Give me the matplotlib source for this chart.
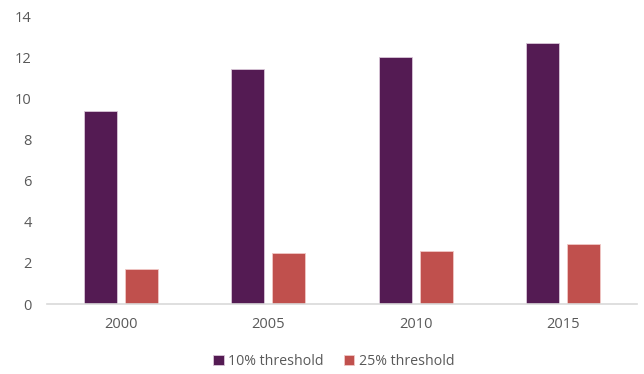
import numpy as np
import matplotlib.pyplot as plt

# Data
years = ['2000', '2005', '2010', '2015']
share_10 = [9.4, 11.4, 12.0, 12.7]
share_25 = [1.7, 2.5, 2.6, 2.9]

plt.rcParams['font.family'] = ['Open Sans', 'DejaVu Sans']

fig = plt.figure(figsize=(6.44, 3.74), dpi=100)
ax = fig.add_axes([47 / 644, 70 / 374, 590 / 644, 288 / 374])

x = np.arange(len(years))
w = 0.224
off = 0.139
col_10 = '#541b53'
col_25 = '#c0504d'

ax.bar(x - off, share_10, width=w, color=col_10, edgecolor='#d9c7d8', linewidth=0.6, label='10% threshold')
ax.bar(x + off, share_25, width=w, color=col_25, edgecolor='#f0c8c6', linewidth=0.6, label='25% threshold')

ax.set_xlim(-0.5, 3.5)
ax.set_ylim(0, 14)
ax.set_yticks(range(0, 15, 2))
ax.set_xticks(x)
ax.set_xticklabels(years)

for s in ['top', 'right', 'left']:
    ax.spines[s].set_visible(False)
ax.spines['bottom'].set_color('#d9d9d9')
ax.spines['bottom'].set_linewidth(1.2)
ax.tick_params(axis='both', length=0, labelsize=10.5, colors='#595959')
ax.tick_params(axis='x', pad=9)
ax.tick_params(axis='y', pad=11)

# legend under the plot, a bit left of centre like the original
ax.legend(loc='center', bbox_to_anchor=(0.486, -0.2), ncol=2, frameon=False,
          fontsize=10.2, labelcolor='#595959', handlelength=0.75, handleheight=0.75,
          handletextpad=0.3, columnspacing=1.4)

plt.savefig('out.png', dpi=100, facecolor='white')
